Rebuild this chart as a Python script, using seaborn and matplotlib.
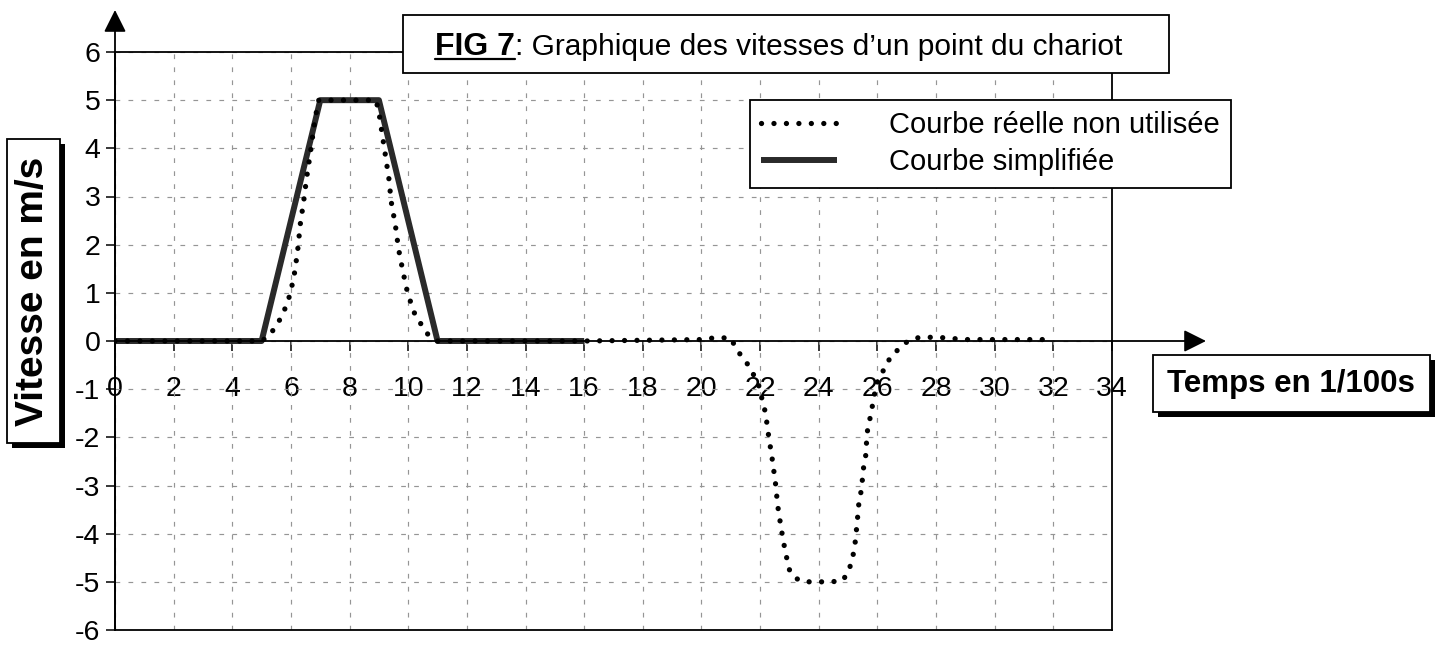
import matplotlib
matplotlib.use("Agg")
import matplotlib.pyplot as plt
import pandas as pd
import seaborn as sns
from matplotlib.patches import Rectangle
from matplotlib.lines import Line2D

# ---------------- data ----------------
simp_t = [0, 5, 7, 9, 11, 16]
simp_v = [0, 0, 5, 5, 0, 0]

real_t = [0.0, 5.0, 5.23, 5.49, 5.67, 5.84, 5.97, 6.06, 6.14, 6.24, 6.32, 6.44, 6.54, 6.66, 6.77, 6.85, 6.95,
          8.90, 9.00, 9.10, 9.22, 9.34, 9.42, 9.56, 9.67, 9.82, 9.98, 10.24, 10.69, 11.00,
          16.0, 20.0, 20.5, 21.0,
          21.22, 21.46, 21.69, 22.01, 22.07, 22.18, 22.29, 22.41, 22.52, 22.60, 22.72, 22.86, 23.02, 23.32,
          23.68, 23.99, 24.39, 24.80,
          25.01, 25.13, 25.22, 25.30, 25.37, 25.45, 25.53, 25.60, 25.65, 25.73, 25.81, 25.88,
          26.00, 26.28, 26.47, 26.76, 27.04,
          27.40, 28.00, 29.00, 32.00]
real_v = [0, 0, 0.10, 0.30, 0.50, 0.73, 0.97, 1.22, 1.47, 1.94, 2.43, 2.93, 3.41, 3.89, 4.39, 4.70, 5.0,
          5.0, 4.75, 4.34, 3.86, 3.37, 2.89, 2.41, 1.91, 1.44, 0.99, 0.53, 0.12, 0.0,
          0.0, 0.03, 0.07, 0.06,
          -0.20, -0.38, -0.59, -1.00, -1.24, -1.48, -1.97, -2.44, -2.93, -3.42, -3.90, -4.38, -4.80, -4.97,
          -5.0, -5.0, -5.0, -4.98,
          -4.80, -4.55, -4.31, -3.83, -3.35, -3.10, -2.62, -2.38, -1.90, -1.66, -1.41, -1.16,
          -0.85, -0.52, -0.31, -0.15, 0.0,
          0.07, 0.08, 0.03, 0.03]

x_ticks = list(range(0, 35, 2))
y_ticks = list(range(-6, 7))

title_bold = "FIG 7"
title_rest = ": Graphique des vitesses d\u2019un point du chariot"
x_label = "Temps en 1/100s"
y_label = "Vitesse en m/s"
label_real = "Courbe réelle non utilisée"
label_simp = "Courbe simplifiée"

# ---------------- style ----------------
sns.set_theme(style="white")
plt.rcParams['font.family'] = ['Liberation Sans', 'DejaVu Sans']
plt.rcParams['axes.unicode_minus'] = False

W, H = 1438, 645
fig = plt.figure(figsize=(W / 100, H / 100), dpi=100)
fig.patch.set_facecolor("white")


def fx(px):
    return px / W


def fy(py):
    return 1 - py / H


L, R, T, B = 115, 1112, 52, 630
ax = fig.add_axes([fx(L), fy(B), fx(R) - fx(L), fy(T) - fy(B)])
ax.set_facecolor("white")

df_simp = pd.DataFrame({"t": simp_t, "v": simp_v})
df_real = pd.DataFrame({"t": real_t, "v": real_v})

sns.lineplot(data=df_simp, x="t", y="v", ax=ax, color="#2a2a2a", linewidth=4.3,
             sort=False, estimator=None, label=label_simp, zorder=3)
sns.lineplot(data=df_real, x="t", y="v", ax=ax, color="black", linewidth=3.8,
             sort=False, estimator=None, label=label_real, zorder=4)
line_simp, line_real = ax.get_lines()[0], ax.get_lines()[1]
line_real.set_linestyle((0, (0.01, 2.35)))
line_real.set_dash_capstyle("round")
line_simp.set_solid_capstyle("butt")

ax.set_xlim(x_ticks[0], x_ticks[-1])
ax.set_ylim(y_ticks[0], y_ticks[-1])
ax.set_xticks(x_ticks)
ax.set_yticks(y_ticks)
ax.set_xlabel("")
ax.set_ylabel("")
ax.set_axisbelow(True)
ax.grid(True, linestyle=(0, (4, 7)), color="#959595", linewidth=0.85)
ax.tick_params(axis="x", bottom=False, labelbottom=False)
ax.tick_params(axis="y", left=True, length=6.5, width=1.1, direction="out",
               pad=4, labelsize=20.5, colors="black")
for s in ax.spines.values():
    s.set_color("black")
    s.set_linewidth(1.3)

# x axis through zero with its labels
sec = ax.secondary_xaxis(0.5)
sec.set_alignment("bottom")
sec.set_xticks(x_ticks)
sec.set_xticklabels([str(t) for t in x_ticks])
sec.tick_params(axis="x", bottom=True, top=False, length=7, width=1.1, direction="out",
                pad=18, labelsize=20.5, colors="black")
for s in sec.spines.values():
    s.set_visible(False)

# arrows
arrow_kw = dict(arrowstyle="-|>", mutation_scale=34, lw=1.3, color="black",
                shrinkA=0, shrinkB=0)
ax.annotate("", xy=(0, (B - 10) / (B - T)), xytext=(0, 0), xycoords="axes fraction",
            arrowprops=arrow_kw, annotation_clip=False)
ax.annotate("", xy=((1206 - L) / (R - L), 0.5), xytext=(0, 0.5), xycoords="axes fraction",
            arrowprops=arrow_kw, annotation_clip=False)

# legend
handles, labels = ax.get_legend_handles_labels()
order = [labels.index(label_real), labels.index(label_simp)]
leg = ax.legend([handles[i] for i in order], [labels[i] for i in order],
                loc="upper left", bbox_to_anchor=(fx(750), fy(100)),
                bbox_transform=fig.transFigure, frameon=True, fancybox=False,
                edgecolor="black", framealpha=1, fontsize=21, handlelength=2.6,
                handletextpad=1.8, labelspacing=0.32, borderpad=0.38, borderaxespad=0)
leg.get_frame().set_linewidth(1.3)
for t in leg.get_texts():
    t.set_color("black")


# boxes
def add_box(x0, y0, x1, y1, shadow=0):
    if shadow:
        fig.add_artist(Rectangle((fx(x0 + shadow), fy(y1 + shadow)), fx(x1 - x0), (y1 - y0) / H,
                                 transform=fig.transFigure, facecolor="black",
                                 edgecolor="black", lw=0, zorder=5))
    fig.add_artist(Rectangle((fx(x0), fy(y1)), fx(x1 - x0), (y1 - y0) / H,
                             transform=fig.transFigure, facecolor="white",
                             edgecolor="black", lw=1.3, zorder=6))


add_box(403, 15, 1169, 73)
add_box(7, 139, 60, 443, shadow=5)
add_box(1153, 355, 1430, 412, shadow=5)

fig.text(fx(33), fy(291), y_label, rotation=90, ha="center", va="center",
         fontsize=28, fontweight="bold", color="black", zorder=7)
fig.text(fx(1291), fy(384), x_label, ha="center", va="center",
         fontsize=22.5, fontweight="bold", color="black", zorder=7)

t1 = fig.text(fx(435), fy(55), title_bold, ha="left", va="baseline",
              fontsize=23, fontweight="bold", color="black", zorder=7)
fig.canvas.draw()
bb = t1.get_window_extent(fig.canvas.get_renderer())
fig.add_artist(Line2D([bb.x0 / W, bb.x1 / W], [fy(59), fy(59)], transform=fig.transFigure,
                      color="black", lw=1.6, zorder=7))
fig.text(bb.x1 / W, fy(55), title_rest, ha="left", va="baseline",
         fontsize=21.5, color="black", zorder=7)

fig.savefig("out.png", dpi=100)
